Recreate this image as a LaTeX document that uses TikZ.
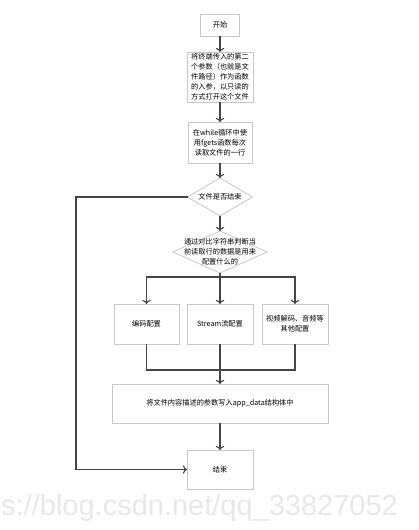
\documentclass[tikz,border=0pt]{standalone}
\usepackage{fontspec}
\usepackage{tikz}
\usetikzlibrary{arrows.meta,shapes.geometric}
\newfontfamily\cjk{Noto Sans CJK SC}
\newfontfamily\wmfont{Liberation Sans}
\definecolor{boxline}{HTML}{C8C8C8}
\definecolor{flowline}{HTML}{454545}
\definecolor{wmgray}{HTML}{E8E8E8}
\tikzset{
	procbox/.style={draw=boxline, line width=0.8pt, inner sep=0pt, outer sep=0pt, align=center, font=\cjk\fontsize{7.2}{10}\selectfont},
	decision/.style={draw=boxline, line width=0.8pt, diamond, inner sep=0pt, outer sep=0pt, label={[font=\cjk\fontsize{7.2}{10}\selectfont, align=center]center:#1}},
	flow/.style={->, line width=1.1pt, draw=flowline},
	joint/.style={line width=1.1pt, draw=flowline}
}

\begin{document}
\begin{tikzpicture}[x=1pt, y=-1pt]
			\useasboundingbox (0,0) rectangle (418,530);
			\node[text=wmgray, font=\wmfont\fontsize{29}{29}\selectfont, anchor=base west, inner sep=0pt] (mark) at (1,515) {s://blog.csdn.net/qq\_33827052};
			
			\node[procbox, minimum width=39pt, minimum height=22pt] (start) at (220,25) {开始};
			\node[procbox, minimum width=66pt, minimum height=50pt] (openfile) at (220,77) {将终端传入的第二\\个参数（也就是文\\件路径）作为函数\\的入参，以只读的\\方式打开这个文件};
			\node[procbox, minimum width=64pt, minimum height=41pt] (readline) at (220,142.5) {在while循环中使\\用fgets函数每次\\读取文件的一行};
			\node[decision={文件是否结束}, minimum width=65pt, minimum height=38pt] (isend) at (220,197) {};
			\node[decision={通过对比字符串判断当\\前读取行的数据是用来\\配置什么的}, minimum width=94pt, minimum height=42pt] (which) at (220,252) {};
			
			\node[procbox, minimum width=65pt, minimum height=40pt] (codec) at (146.5,324) {编码配置};
			\node[procbox, minimum width=66pt, minimum height=40pt] (stream) at (220,324) {Stream流配置};
			\node[procbox, minimum width=66pt, minimum height=40pt] (other) at (295,324) {视频解码、音频等\\其他配置};
			
			\node[procbox, minimum width=216pt, minimum height=39pt] (write) at (220,403.5) {将文件内容描述的参数写入app\_data结构体中};
			\node[procbox, minimum width=66pt, minimum height=39pt] (finish) at (220,469.5) {结束};
			
			\coordinate (split) at (220,277);
			\coordinate (merge) at (220,370);
			\coordinate (loop) at (76,197);
			
			\draw[flow] (start) -- (openfile);
			\draw[flow] (openfile) -- (readline);
			\draw[flow] (readline) -- (isend);
			\draw[flow] (isend) -- (which);
			\draw[flow] (isend.west) -- (loop) |- (finish.west);
			
			\draw[joint] (which.south) -- (split);
			\draw[flow] (split) -| (codec.north);
			\draw[flow] (split) -- (stream.north);
			\draw[flow] (split) -| (other.north);
			
			\draw[joint] (codec.south) |- (merge) -| (other.south);
			\draw[flow] (stream.south) -- (write.north);
			\draw[flow] (write) -- (finish);
			
		\end{tikzpicture}
\end{document}
